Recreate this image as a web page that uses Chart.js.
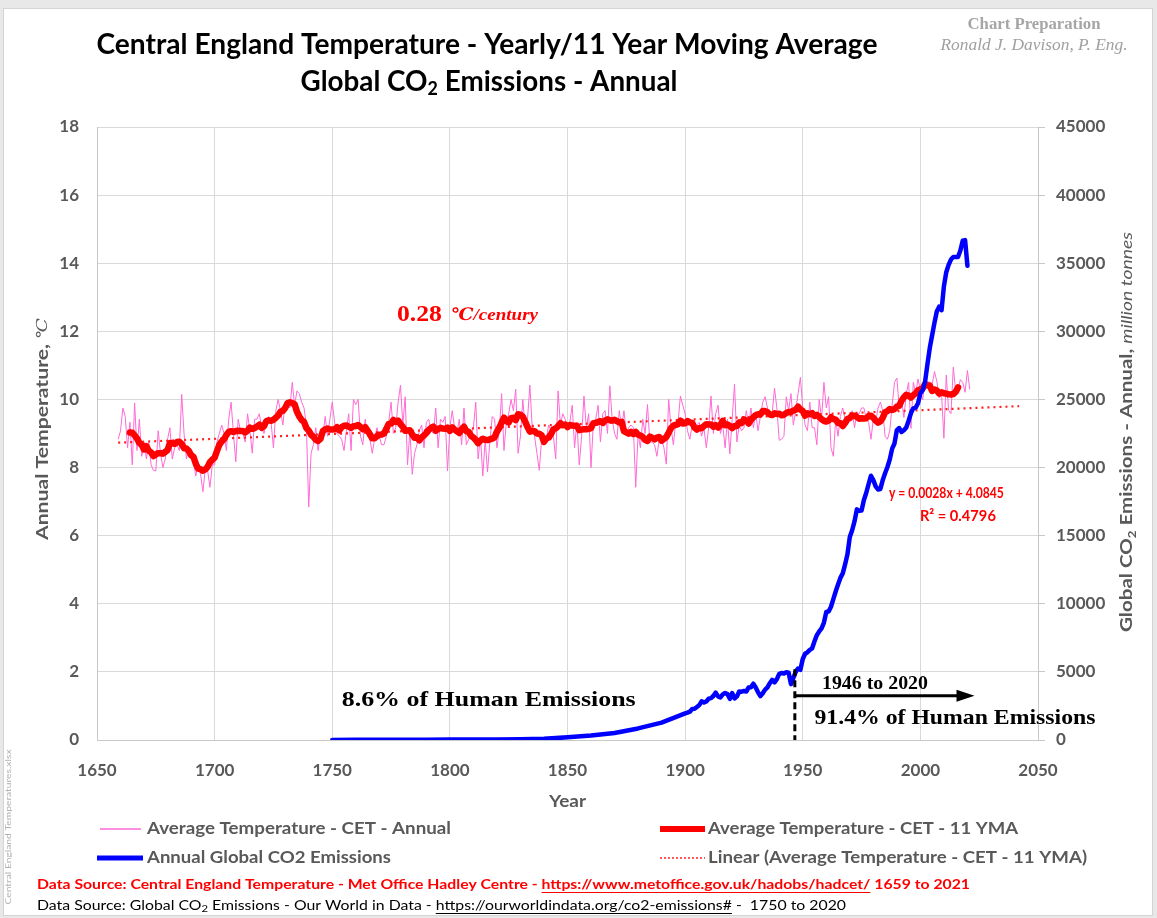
<!DOCTYPE html>
<html>
<head>
<meta charset="utf-8">
<script src="https://cdn.jsdelivr.net/npm/chart.js@4.4.1/dist/chart.umd.min.js"></script>
<style>
html,body{margin:0;padding:0;background:#e8e8e8;width:1157px;height:918px;overflow:hidden;}
#panel{position:absolute;left:3px;top:8px;width:1150px;height:908px;background:#fff;border:1px solid #d4d4d4;box-sizing:border-box;}
#c{position:absolute;left:0;top:0;}
</style>
</head>
<body>
<div id="panel"></div>
<canvas id="c" width="1157" height="918"></canvas>
<script>
// ---------------- DATA ----------------
const cetStartYear = 1659;
// Central England Temperature, annual mean (°C), 1659 .. 2021
const cetAnnual = [
 8.83, 9.08, 9.75, 9.50, 8.58, 9.33, 8.08, 9.90, 8.50, 9.42,
 8.33, 8.75, 8.25, 8.75, 8.08, 7.92, 7.90, 9.08, 8.42, 8.00,
 8.25, 8.83, 9.17, 8.25, 8.58, 8.67, 8.50,10.15, 9.00, 8.25,
 8.58, 8.33, 8.17, 7.75, 8.17, 7.83, 7.29, 7.92, 7.92, 7.42,
 8.08, 8.08, 8.75, 9.00, 9.25, 9.00, 8.50, 9.42, 9.92, 9.00,
 8.17, 9.42, 9.08, 9.00, 8.75, 9.58, 9.08, 8.42, 9.42, 9.42,
 9.58, 9.17, 9.00, 9.33, 9.50, 9.33, 8.58, 9.67,10.00, 9.67,
 9.25, 9.92, 9.83, 9.75,10.50, 9.83,10.25,10.17, 9.92, 9.75,
 9.25, 6.84, 8.42, 8.67, 9.17, 8.50, 9.00, 8.92, 9.50, 8.92,
 9.42, 9.92, 9.33, 9.00, 8.92, 8.83, 8.50, 9.08, 9.58, 8.50,
10.00, 9.85,10.00, 8.92, 8.67, 9.42, 8.92, 8.83, 8.42, 8.83,
 9.17, 8.92, 8.67, 8.67, 8.92, 9.33, 9.92, 9.00, 9.17, 9.92,
10.42, 9.25,10.08, 8.08, 9.08, 7.80, 8.42, 8.67, 9.08, 9.25,
 8.58, 9.33, 9.42, 9.08, 9.00, 9.75, 8.58, 9.42, 9.33, 9.50,
 7.90, 9.17, 9.67, 9.17, 9.00, 9.42, 8.67, 9.75, 8.67, 8.83,
 8.92, 9.17, 9.92, 8.25, 8.92, 7.75, 8.83, 7.87, 8.75, 9.50,
 9.42, 8.58, 9.08,10.17, 8.50, 9.33, 9.58,10.00, 9.67,10.30,
 8.42, 8.92,10.00, 9.17, 9.42,10.42, 9.17, 8.92, 8.42, 7.92,
 8.83, 8.67, 8.83, 9.25, 9.08, 8.92, 8.25,10.25, 9.25, 9.58,
 9.42, 9.17, 9.33, 9.83, 8.58, 9.33, 8.08, 8.92,10.10, 9.17,
 9.58, 8.00, 9.33, 9.42, 9.83, 8.75, 9.58, 9.67, 9.00,10.40,
 9.42, 9.00, 8.83, 9.67, 9.17, 9.67, 9.00, 9.17, 9.25, 9.17,
 7.42, 9.00, 8.58, 9.42, 9.00, 9.85, 8.75, 8.75, 8.67, 8.33,
 8.83, 8.83, 8.58, 8.10,10.00, 9.17, 8.67, 9.33, 9.33,10.10,
 9.83, 9.58, 9.08, 8.83, 9.25, 9.08, 9.25, 9.33, 8.92, 9.17,
 8.58, 9.17,10.10, 9.00, 9.58, 9.83, 9.00, 9.25, 8.58, 9.42,
 8.40, 9.42,10.45, 8.75, 9.25, 9.08, 9.17, 9.67, 9.25, 9.75,
 9.17, 9.58, 9.08, 9.50, 9.92,10.08, 9.75, 9.50, 9.58,10.33,
 9.75, 8.80, 8.83, 8.92,10.08, 9.67,10.17, 9.25, 9.67,10.17,
10.65, 9.75, 9.25, 9.08, 9.92, 9.17, 9.17, 8.67,10.00, 9.42,
10.50, 9.75,10.08, 8.58, 8.33, 9.42, 8.92, 9.50, 9.75, 9.42,
 9.25, 9.42, 9.67, 9.17, 9.58, 9.58, 9.75, 9.75, 9.42, 9.33,
 8.83, 9.42, 9.33, 9.75, 9.92, 9.67, 8.92, 8.83, 9.08, 9.83,
10.50,10.63, 9.79, 9.98, 9.47,10.16,10.50, 9.15,10.50,10.19,
10.60,10.27, 9.99,10.58,10.52,10.51,10.43,10.82,10.53,10.05,
10.17, 8.86,10.72, 9.68, 9.58,10.95,10.23,10.29,10.58,10.50,
10.21,10.85,10.30
];
const maWindow = 11; // centred 11-year moving average

// Trend line printed on the chart: y = 0.0028x + 4.0845
const trendSlope = 0.0028;
const trendIntercept = 4.0845;
const trendYears = [1659, 2042];

// Global CO2 emissions (million tonnes), Our World in Data
const co2Years = [
 1750,1760,1770,1780,1790,1800,1810,1820,1830,1840,1850,1860,1870,1880,1890,
 1900,1901,1902,1903,1904,1905,1906,1907,1908,1909,
 1910,1911,1912,1913,1914,1915,1916,1917,1918,1919,
 1920,1921,1922,1923,1924,1925,1926,1927,1928,1929,
 1930,1931,1932,1933,1934,1935,1936,1937,1938,1939,
 1940,1941,1942,1943,1944,1945,1946,1947,1948,1949,
 1950,1951,1952,1953,1954,1955,1956,1957,1958,1959,
 1960,1961,1962,1963,1964,1965,1966,1967,1968,1969,
 1970,1971,1972,1973,1974,1975,1976,1977,1978,1979,
 1980,1981,1982,1983,1984,1985,1986,1987,1988,1989,
 1990,1991,1992,1993,1994,1995,1996,1997,1998,1999,
 2000,2001,2002,2003,2004,2005,2006,2007,2008,2009,
 2010,2011,2012,2013,2014,2015,2016,2017,2018,2019,
 2020
];
const co2Values = [
 9,10,12,13,16,28,35,43,58,84,197,330,520,850,1280,
 1950,2010,2080,2280,2290,2420,2560,2840,2750,2830,
 3030,3070,3230,3480,3200,3130,3350,3450,3370,3020,
 3440,3050,3200,3560,3550,3600,3560,3860,3880,4130,
 3850,3500,3220,3430,3700,3870,4170,4410,4230,4470,
 4850,4920,4880,4980,4940,4100,4550,5000,5250,5150,
 5950,6330,6440,6620,6730,7250,7700,7970,8190,8620,
 9400,9430,9780,10340,10900,11410,11900,12230,12890,13630,
 14900,15400,16050,16930,16820,16840,17620,18150,18790,19400,
 19080,18620,18390,18430,19080,19580,20040,20600,21390,21770,
 22750,22900,22610,22740,22940,23440,24000,24350,24400,24720,
 25450,25680,26300,27580,28780,29710,30640,31470,31810,31550,
 33300,34340,34880,35270,35460,35450,35460,35930,36650,36700,
 34810
];

// Axis ranges / ticks
const xRange = [1650, 2050], xStep = 50;
const tempRange = [0, 18], tempStep = 2;
const co2Range = [0, 45000], co2Step = 5000;

// Annotation values
const splitYear = 1946;
const arrowEndYear = 2023;
const shareBefore = "8.6% of Human Emissions";
const shareAfter = "91.4% of Human Emissions";
const periodLabel = "1946 to 2020";
const rateLabel = "0.28";

// ---------------- SERIES ----------------
const annualPts = cetAnnual.map((v, i) => ({x: cetStartYear + i, y: v}));
const half = (maWindow - 1) / 2;
const maPts = [];
for (let i = half; i < cetAnnual.length - half; i++) {
  let s = 0;
  for (let k = i - half; k <= i + half; k++) s += cetAnnual[k];
  maPts.push({x: cetStartYear + i, y: s / maWindow});
}
const trendPts = trendYears.map(x => ({x, y: trendSlope * x + trendIntercept}));
const co2Pts = co2Years.map((x, i) => ({x, y: co2Values[i]}));

// ---------------- TEXT HELPERS ----------------
const SANS = "Lato, 'Open Sans', sans-serif";
const SERIF = "'Liberation Serif', 'DejaVu Serif', serif";
const GREY = '#595959';

function drawRuns(ctx, x, y, parts, align, targetW) {
  ctx.save();
  let W = 0;
  const ws = parts.map(p => { ctx.font = p.f; const w = ctx.measureText(p.t).width; W += w; return w; });
  const sx = targetW ? targetW / W : 1;
  const tw = W * sx;
  const start = align === 'center' ? x - tw / 2 : (align === 'right' ? x - tw : x);
  ctx.translate(start, y);
  ctx.scale(sx, 1);
  ctx.textBaseline = 'middle';
  ctx.textAlign = 'left';
  let cx = 0;
  parts.forEach((p, i) => {
    ctx.font = p.f;
    ctx.fillStyle = p.c;
    ctx.fillText(p.t, cx, p.dy || 0);
    if (p.u) {
      ctx.fillRect(cx, (p.dy || 0) + p.u, ws[i], 1);
    }
    cx += ws[i];
  });
  ctx.restore();
}
function drawRotated(ctx, x, y, parts, targetW) {
  ctx.save();
  ctx.translate(x, y);
  ctx.rotate(-Math.PI / 2);
  drawRuns(ctx, 0, 0, parts, 'center', targetW);
  ctx.restore();
}

const annotPlugin = {
  id: 'annot',
  afterDraw(chart) {
    const ctx = chart.ctx;
    const xs = chart.scales.x, ys = chart.scales.y, y2 = chart.scales.y2;
    const px = v => xs.getPixelForValue(v);
    const py = v => ys.getPixelForValue(v);
    const py2 = v => y2.getPixelForValue(v);

    // Titles
    drawRuns(ctx, 487, 45, [{t: 'Central England Temperature - Yearly/11 Year Moving Average', f: `bold 28px ${SANS}`, c: '#000'}], 'center', 781);
    drawRuns(ctx, 489, 82, [
      {t: 'Global CO', f: `bold 28px ${SANS}`, c: '#000'},
      {t: '2', f: `bold 18px ${SANS}`, c: '#000', dy: 7},
      {t: ' Emissions - Annual', f: `bold 28px ${SANS}`, c: '#000'}
    ], 'center', 377);
    drawRuns(ctx, 1034, 25, [{t: 'Chart Preparation', f: `bold 16px ${SERIF}`, c: '#a6a6a6'}], 'center', 133);
    drawRuns(ctx, 1034, 46, [{t: 'Ronald J. Davison, P. Eng.', f: `italic 17px ${SERIF}`, c: '#a0a0a0'}], 'center', 187);

    // Axis titles
    drawRotated(ctx, 43, 429, [
      {t: 'Annual Temperature, ', f: `bold 17px ${SANS}`, c: GREY},
      {t: '℃', f: `italic 15px ${SERIF}`, c: GREY}
    ], 222);
    drawRotated(ctx, 1127, 432, [
      {t: 'Global CO', f: `bold 17px ${SANS}`, c: GREY},
      {t: '2', f: `bold 11px ${SANS}`, c: GREY, dy: 5},
      {t: ' Emissions - Annual, ', f: `bold 17px ${SANS}`, c: GREY},
      {t: 'million tonnes', f: `italic 16px ${SANS}`, c: GREY}
    ], 400);
    drawRuns(ctx, (xs.left + xs.right) / 2, 802, [{t: 'Year', f: `bold 17px ${SANS}`, c: GREY}], 'center', 37);

    // Rate annotation
    drawRuns(ctx, px(1777.5), py(12.47), [
      {t: rateLabel, f: `bold 23px ${SERIF}`, c: '#ff0000'},
      {t: '  ', f: `16px ${SERIF}`, c: '#ff0000'},
      {t: '℃/century', f: `bold italic 17px ${SERIF}`, c: '#ff0000'}
    ], 'left', 141);

    // Trend equation
    drawRuns(ctx, px(2035.5), py(7.24), [{t: 'y = 0.0028x + 4.0845', f: `bold 15px ${SANS}`, c: '#ff0000'}], 'right', 115);
    drawRuns(ctx, px(2032.1), py(6.56), [{t: 'R² = 0.4796', f: `bold 15px ${SANS}`, c: '#ff0000'}], 'right', 76);

    // Emission shares
    drawRuns(ctx, px(1816.5), py(1.18), [{t: shareBefore, f: `bold 22px ${SERIF}`, c: '#000'}], 'center', 294);
    drawRuns(ctx, px(2014.7), py(0.62), [{t: shareAfter, f: `bold 21px ${SERIF}`, c: '#000'}], 'center', 281);
    drawRuns(ctx, px(1980.7), py(1.62), [{t: periodLabel, f: `bold 18px ${SERIF}`, c: '#000'}], 'center', 106);

    // Dashed split line and arrow
    ctx.save();
    const sx = px(splitYear) + 1.5;
    ctx.strokeStyle = '#000';
    ctx.lineWidth = 3;
    ctx.setLineDash([7, 4]);
    ctx.beginPath();
    ctx.moveTo(sx, py2(5200));
    ctx.lineTo(sx, py2(0));
    ctx.stroke();
    ctx.setLineDash([]);
    const ay = py(1.3);
    const ex = px(arrowEndYear);
    ctx.beginPath();
    ctx.moveTo(sx, ay);
    ctx.lineTo(ex - 12, ay);
    ctx.stroke();
    ctx.fillStyle = '#000';
    ctx.beginPath();
    ctx.moveTo(ex, ay);
    ctx.lineTo(ex - 18, ay - 6);
    ctx.lineTo(ex - 18, ay + 6);
    ctx.closePath();
    ctx.fill();
    ctx.restore();

    // Legend
    ctx.save();
    ctx.lineCap = 'butt';
    ctx.strokeStyle = '#ff6ad5'; ctx.lineWidth = 1.5;
    ctx.beginPath(); ctx.moveTo(100, 829); ctx.lineTo(141, 829); ctx.stroke();
    ctx.strokeStyle = '#ff0000'; ctx.lineWidth = 6;
    ctx.beginPath(); ctx.moveTo(660, 829); ctx.lineTo(705, 829); ctx.stroke();
    ctx.strokeStyle = '#0000ff'; ctx.lineWidth = 5;
    ctx.beginPath(); ctx.moveTo(97, 858); ctx.lineTo(143, 858); ctx.stroke();
    ctx.strokeStyle = '#ff2020'; ctx.lineWidth = 1.5; ctx.setLineDash([2, 2]);
    ctx.beginPath(); ctx.moveTo(660, 858); ctx.lineTo(705, 858); ctx.stroke();
    ctx.restore();
    const lf = `bold 17px ${SANS}`;
    drawRuns(ctx, 147, 829, [{t: 'Average Temperature - CET - Annual', f: lf, c: GREY}], 'left', 304);
    drawRuns(ctx, 708, 829, [{t: 'Average Temperature - CET - 11 YMA', f: lf, c: GREY}], 'left', 310);
    drawRuns(ctx, 147, 858, [{t: 'Annual Global CO2 Emissions', f: lf, c: GREY}], 'left', 244);
    drawRuns(ctx, 708, 858, [{t: 'Linear (Average Temperature - CET - 11 YMA)', f: lf, c: GREY}], 'left', 379);

    // Data sources
    const df = `14px ${SANS}`;
    drawRuns(ctx, 37, 884, [
      {t: 'Data Source: Central England Temperature - Met Office Hadley Centre - ', f: `bold 14px ${SANS}`, c: '#ff0000'},
      {t: 'https://www.metoffice.gov.uk/hadobs/hadcet/', f: `bold 14px ${SANS}`, c: '#ff0000', u: 8},
      {t: ' 1659 to 2021', f: `bold 14px ${SANS}`, c: '#ff0000'}
    ], 'left', 933);
    drawRuns(ctx, 37, 905, [
      {t: 'Data Source: Global CO', f: df, c: '#000'},
      {t: '2', f: `10px ${SANS}`, c: '#000', dy: 4},
      {t: ' Emissions - Our World in Data - ', f: df, c: '#000'},
      {t: 'https://ourworldindata.org/co2-emissions#', f: df, c: '#000', u: 8},
      {t: ' -  1750 to 2020', f: df, c: '#000'}
    ], 'left', 809);

    // File name (vertical)
    drawRotated(ctx, 8, 827, [{t: 'Central England Temperatures.xlsx', f: `8px ${SANS}`, c: '#b0b0b0'}], 155);
  }
};

const tickFont = {family: SANS, size: 17, weight: 'bold'};

new Chart(document.getElementById('c'), {
  type: 'line',
  data: {
    datasets: [
      {label: 'Annual Global CO2 Emissions', data: co2Pts, yAxisID: 'y2', borderColor: '#0000ff', borderWidth: 4.5, pointRadius: 0, tension: 0, borderJoinStyle: 'round', borderCapStyle: 'round'},
      {label: 'Average Temperature - CET - 11 YMA', data: maPts, yAxisID: 'y', borderColor: '#ff0000', borderWidth: 6.5, pointRadius: 0, tension: 0, borderJoinStyle: 'round', borderCapStyle: 'round'},
      {label: 'Linear (Average Temperature - CET - 11 YMA)', data: trendPts, yAxisID: 'y', borderColor: '#ff2020', borderWidth: 2.2, borderDash: [2, 4], pointRadius: 0},
      {label: 'Average Temperature - CET - Annual', data: annualPts, yAxisID: 'y', borderColor: '#ff6ad5', borderWidth: 1, pointRadius: 0, tension: 0}
    ]
  },
  options: {
    responsive: false,
    animation: false,
    devicePixelRatio: 1,
    layout: {padding: {top: 127, left: 0, right: 0, bottom: 0}},
    plugins: {legend: {display: false}, tooltip: {enabled: false}, title: {display: false}},
    scales: {
      x: {
        type: 'linear', min: xRange[0], max: xRange[1],
        ticks: {stepSize: xStep, color: GREY, font: tickFont, padding: 20, callback: v => String(v), maxRotation: 0},
        grid: {color: '#d9d9d9', drawTicks: false},
        border: {color: '#c8c8c8'},
        afterFit: s => { s.height = 178; }
      },
      y: {
        position: 'left', min: tempRange[0], max: tempRange[1],
        ticks: {stepSize: tempStep, color: GREY, font: tickFont, padding: 18, callback: v => String(v)},
        grid: {color: '#d9d9d9', drawTicks: false},
        border: {color: '#c8c8c8'},
        afterFit: s => { s.width = 97; }
      },
      y2: {
        position: 'right', min: co2Range[0], max: co2Range[1],
        ticks: {stepSize: co2Step, color: GREY, font: tickFont, padding: 11, callback: v => String(v)},
        grid: {drawOnChartArea: false, drawTicks: true, tickLength: 7, color: '#c8c8c8'},
        border: {display: true, color: '#c8c8c8'},
        afterFit: s => { s.width = 119; }
      }
    }
  },
  plugins: [annotPlugin]
});
</script>
</body>
</html>
